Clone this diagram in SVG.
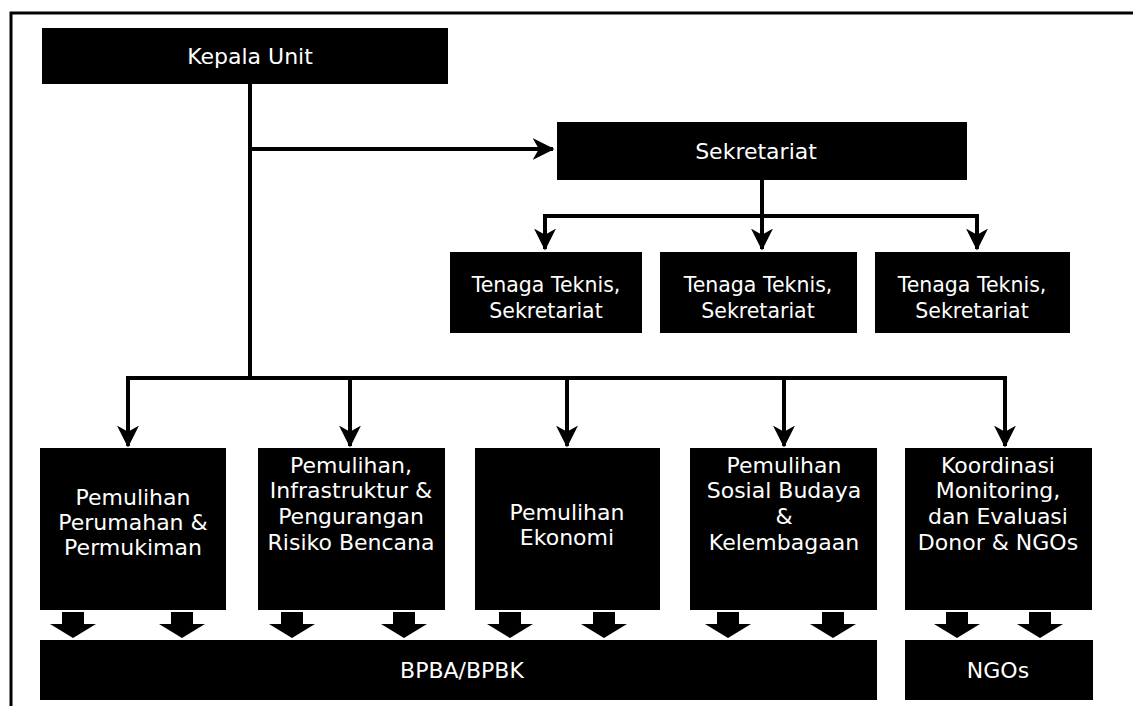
<svg xmlns="http://www.w3.org/2000/svg" width="1133" height="706" viewBox="0 0 1133 706">
<style>
.box{fill:#000;}
.t{fill:#fff;font-family:"DejaVu Sans","Liberation Sans",sans-serif;font-size:22px;text-anchor:middle;}
.s{font-size:20.5px;}
.ln{stroke:#000;stroke-width:4;fill:none;}
.frame{stroke:#000;stroke-width:3;fill:none;}
</style>
<defs>
<marker id="ah" viewBox="0 0 14 14" refX="13" refY="7" markerWidth="5.5" markerHeight="5.5" orient="auto" markerUnits="strokeWidth">
<path d="M0,0 L14,7 L0,14 L4,7 Z" fill="#000"/>
</marker>
<path id="blk" d="M-11,0 H11 V12 H23 L0,26 L-23,12 H-11 Z" fill="#000"/>
</defs>
<rect width="1133" height="706" fill="#fff"/>
<path class="frame" d="M11,706 V13 H1133"/>

<g id="connectors">
<path class="ln" d="M250,84 V378"/>
<path class="ln" d="M250,149 H553" marker-end="url(#ah)"/>
<path class="ln" d="M762,180 V249" marker-end="url(#ah)"/>
<path class="ln" d="M545,249 V216 H977 V249" marker-end="url(#ah)"/>
<path class="ln" d="M545,216 V249" marker-end="url(#ah)"/>
<path class="ln" d="M128,446 V378 H1005 V446" marker-end="url(#ah)"/>
<path class="ln" d="M128,378 V446" marker-end="url(#ah)"/>
<path class="ln" d="M350,378 V446" marker-end="url(#ah)"/>
<path class="ln" d="M567,378 V446" marker-end="url(#ah)"/>
<path class="ln" d="M784,378 V446" marker-end="url(#ah)"/>
<use href="#blk" x="73" y="612"/>
<use href="#blk" x="182" y="612"/>
<use href="#blk" x="292" y="612"/>
<use href="#blk" x="404" y="612"/>
<use href="#blk" x="510" y="612"/>
<use href="#blk" x="604" y="612"/>
<use href="#blk" x="728" y="612"/>
<use href="#blk" x="833" y="612"/>
<use href="#blk" x="957" y="612"/>
<use href="#blk" x="1040" y="612"/>
</g>

<g id="kepala-unit"><rect class="box" x="42" y="28" width="406" height="56"/><text class="t" x="250" y="64" font-size="23">Kepala Unit</text></g>
<g id="sekretariat"><rect class="box" x="557" y="122" width="410" height="58"/><text class="t" x="756" y="159" font-size="22">Sekretariat</text></g>

<g id="tenaga-1"><rect class="box" x="450" y="252" width="192" height="81"/><text class="t s" x="546" y="292">Tenaga Teknis,</text><text class="t s" x="546" y="318">Sekretariat</text></g>
<g id="tenaga-2"><rect class="box" x="660" y="252" width="197" height="81"/><text class="t s" x="758" y="292">Tenaga Teknis,</text><text class="t s" x="758" y="318">Sekretariat</text></g>
<g id="tenaga-3"><rect class="box" x="875" y="252" width="195" height="81"/><text class="t s" x="972" y="292">Tenaga Teknis,</text><text class="t s" x="972" y="318">Sekretariat</text></g>

<g id="perumahan"><rect class="box" x="40" y="448" width="186" height="162"/>
<text class="t" x="133" y="505">Pemulihan</text><text class="t" x="133" y="530">Perumahan &amp;</text><text class="t" x="133" y="555">Permukiman</text></g>
<g id="infrastruktur"><rect class="box" x="258" y="448" width="187" height="162"/>
<text class="t" x="351" y="473">Pemulihan,</text><text class="t" x="351" y="498">Infrastruktur &amp;</text><text class="t" x="351" y="524">Pengurangan</text><text class="t" x="351" y="550">Risiko Bencana</text></g>
<g id="ekonomi"><rect class="box" x="475" y="448" width="185" height="162"/>
<text class="t" x="567" y="520">Pemulihan</text><text class="t" x="567" y="545">Ekonomi</text></g>
<g id="sosial-budaya"><rect class="box" x="690" y="448" width="187" height="162"/>
<text class="t" x="784" y="473">Pemulihan</text><text class="t" x="784" y="498">Sosial Budaya</text><text class="t" x="784" y="524">&amp;</text><text class="t" x="784" y="550">Kelembagaan</text></g>
<g id="koordinasi"><rect class="box" x="905" y="448" width="187" height="162"/>
<text class="t" x="998" y="473">Koordinasi</text><text class="t" x="998" y="498">Monitoring,</text><text class="t" x="998" y="524">dan Evaluasi</text><text class="t" x="998" y="550">Donor &amp; NGOs</text></g>

<g id="bpba"><rect class="box" x="40" y="640" width="837" height="60"/><text class="t" x="462" y="678">BPBA/BPBK</text></g>
<g id="ngos"><rect class="box" x="905" y="640" width="188" height="60"/><text class="t" x="998" y="678">NGOs</text></g>
</svg>
